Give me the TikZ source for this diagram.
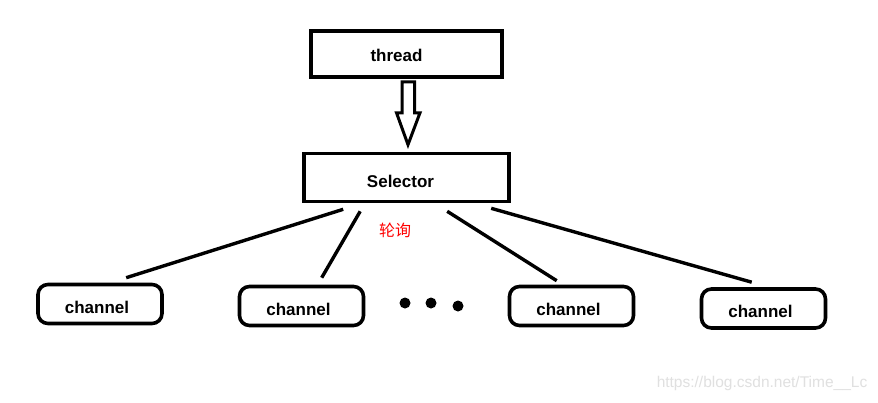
\documentclass[tikz,border=0pt]{standalone}
\usepackage{fontspec}
\setmainfont{Liberation Sans}
\newfontfamily\cjk{Noto Sans CJK SC}
\usetikzlibrary{calc}
\begin{document}
\begin{tikzpicture}[x=1pt,y=-1pt,
  sqbox/.style={draw,line width=3.6pt,minimum width=#1,minimum height=46pt,inner sep=0pt},
  chbox/.style={draw,line width=3.6pt,rounded corners=10pt,minimum width=124pt,minimum height=39pt,inner sep=0pt},
  lbl/.style={inner sep=0pt,font=\bfseries\fontsize{17}{20}\selectfont},
  link/.style={line width=3.4pt},
  dot/.style={circle,fill=black,minimum width=9pt,minimum height=11pt,inner sep=0pt}]
\useasboundingbox (0,0) rectangle (878,402);
\fill[white] (0,0) rectangle (878,402);
\node[sqbox=191pt] (thread) at (406.5,54) {};
\node[lbl] (threadt) at ($(thread)+(-10,1.5)$) {thread};
\node[sqbox=205pt,minimum height=48pt] (sel) at (406.5,177.5) {};
\node[lbl] (selt) at ($(sel)+(-6,3.5)$) {Selector};
% hollow arrow
\draw[line width=3pt,line join=miter]
  ($(thread.south)+(-4.5,3)$) -- ($(thread.south)+(-4.5,34)$) -- ($(thread.south)+(-10,34)$)
  -- ($(sel.north)+(1.5,-7)$) -- ($(thread.south)+(13.5,34)$) -- ($(thread.south)+(8,34)$)
  -- ($(thread.south)+(8,3)$) -- cycle;
\node[chbox] (c1) at (100,304) {};
\node[chbox] (c2) at (301.5,306) {};
\node[chbox] (c3) at (571.5,306) {};
\node[chbox] (c4) at (763.5,308.5) {};
\node[lbl] (c1t) at ($(c1)+(-3,3.5)$) {channel};
\node[lbl] (c2t) at ($(c2)+(-3,3.5)$) {channel};
\node[lbl] (c3t) at ($(c3)+(-3,3.5)$) {channel};
\node[lbl] (c4t) at ($(c4)+(-3,3)$) {channel};
\node[dot] (d1) at (405,303) {};
\node[dot] (d2) at (431,303) {};
\node[dot] (d3) at (458,306) {};
\coordinate (s1) at ($(sel.south west)+(41,6)$);
\coordinate (s2) at ($(sel.south west)+(58,8)$);
\coordinate (s3) at ($(sel.south west)+(145,8)$);
\coordinate (s4) at ($(sel.south west)+(189,5)$);
\coordinate (e1) at ($(c1.north west)+(90,-5)$);
\coordinate (e2) at ($(c2.north west)+(84,-7)$);
\coordinate (e3) at ($(c3.north west)+(49,-4)$);
\coordinate (e4) at ($(c4.north west)+(52,-5)$);
\draw[link] (s1) -- (e1);
\draw[link] (s2) -- (e2);
\draw[link] (s3) -- (e3);
\draw[link] (s4) -- (e4);
\node[text=red,font=\cjk\fontsize{16}{18}\selectfont] (poll) at (395,230) {轮询};
\node[text=black!12,font=\fontsize{15.5}{18}\selectfont] (wm) at (762,383) {https://blog.csdn.net/Time\_\_Lc};
\end{tikzpicture}
\end{document}
